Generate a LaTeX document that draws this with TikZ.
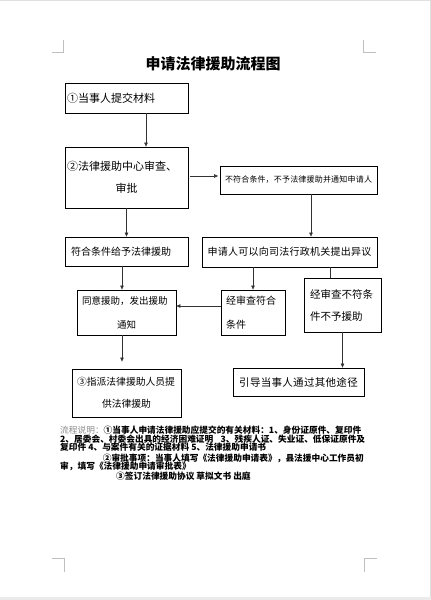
\documentclass[tikz,border=0pt]{standalone}
\usepackage{fontspec}
\setmainfont{Noto Sans CJK SC}
\usetikzlibrary{arrows.meta}
\XeTeXlinebreaklocale "zh"
\XeTeXlinebreakskip=0pt plus 2pt
\tikzset{
  bx/.style={draw=black, line width=0.75pt, inner sep=0pt, anchor=center},
  arr/.style={draw=black!80, line width=0.6pt, -{Triangle[length=4pt,width=3.4pt]}},
  ln/.style={draw=black!80, line width=0.6pt},
  crop/.style={draw=black!25, line width=0.6pt},
  note/.style={inner sep=0pt, font=\fontsize{8.7}{9}\selectfont\bfseries},
}
\newcommand{\midline}[1]{\leavevmode\hfill #1\hfill\null}
\begin{document}
\begin{tikzpicture}[x=1pt,y=-1pt]
\useasboundingbox (0,0) rectangle (431,600);
\fill[white] (0,0) rectangle (431,600);
% page frame
\draw[black!12, line width=1pt] (0,0.5) -- (431,0.5);
\draw[black!12, line width=1pt] (430,0) -- (430,597);
\fill[black!8] (0,596.5) rectangle (431,600);
% crop marks
\draw[crop] (52,52) -- (63.5,52) -- (63.5,40);
\draw[crop] (363.5,40) -- (363.5,52) -- (376,52);
\draw[crop] (52,558) -- (64,558) -- (64,572);
\draw[crop] (364,572) -- (364,558) -- (377,558);
% title
\node[font=\fontsize{15}{18}\selectfont\bfseries] (title) at (213,64) {申请法律援助流程图};
% boxes
\node[bx, minimum width=123pt, minimum height=30pt, text width=119pt, inner xsep=2pt, align=left,
  font=\fontsize{11}{13}\selectfont] (b1) at (126.5,98) {①当事人提交材料};
\node[bx, minimum width=123pt, minimum height=61pt, text width=119pt, inner xsep=2pt, align=left,
  font=\fontsize{11}{22}\selectfont] (b2) at (126.5,177.5) {②法律援助中心审查、\\\midline{审批}};
\node[bx, minimum width=157pt, minimum height=28pt, text width=150pt, inner xsep=3.5pt, align=center,
  font=\fontsize{8}{10}\selectfont] (b3) at (298.5,180) {不符合条件，不予法律援助并通知申请人};
\node[bx, minimum width=123pt, minimum height=29pt, text width=111pt, inner xsep=6pt, align=left,
  font=\fontsize{10}{12}\selectfont] (b4) at (126.5,251.5) {符合条件给予法律援助};
\node[bx, minimum width=175pt, minimum height=30pt, text width=169pt, inner xsep=3pt, align=center,
  font=\fontsize{10}{12}\selectfont] (b5) at (289.5,252) {申请人可以向司法行政机关提出异议};
\node[bx, minimum width=99pt, minimum height=45pt, text width=89pt, inner xsep=5pt, align=left,
  font=\fontsize{9.5}{24}\selectfont] (b6) at (126.5,312.5) {同意援助，发出援助\\\midline{通知}};
\node[bx, minimum width=64pt, minimum height=45pt, text width=54pt, inner xsep=5pt, align=left,
  font=\fontsize{10}{24}\selectfont] (b7) at (253,312.5) {经审查符合\\条件};
\node[bx, minimum width=77pt, minimum height=54pt, text width=65pt, inner xsep=6pt, align=left,
  font=\fontsize{10.5}{22}\selectfont] (b8) at (342.5,305) {经审查不符条\\件不予援助};
\node[bx, minimum width=109pt, minimum height=48pt, text width=99pt, inner xsep=5pt, align=left,
  font=\fontsize{9.8}{22}\selectfont] (b9) at (126.5,393) {③指派法律援助人员提\\\midline{供法律援助}};
\node[bx, minimum width=131pt, minimum height=28pt, text width=125pt, inner xsep=3pt, align=center,
  font=\fontsize{10.5}{12}\selectfont] (b10) at (298.5,382) {引导当事人通过其他途径};
% connectors
\draw[arr] ([xshift=19.5pt]b1.south) -- ([xshift=19.5pt]b2.north);
\coordinate (p1) at ([xshift=2pt,yshift=1.5pt]b2.east);
\draw[arr, shorten >=1.5pt] (p1) -- (p1 -| b3.west);
\coordinate (p2) at ([xshift=12.5pt]b3.south);
\draw[arr] (p2) -- (p2 |- b5.north);
\draw[arr] (b2.south) -- (b4.north);
\coordinate (p3) at ([xshift=-4.5pt]b4.south);
\draw[arr] (p3) -- (p3 |- b6.north);
\draw[arr] (b7.north |- b5.south) -- (b7.north);
\coordinate (p4) at ([xshift=-12.5pt]b8.north);
\draw[ln] (p4 |- b5.south) -- (p4);
\coordinate (p5) at ([yshift=6.5pt]b7.west);
\draw[arr] (p5) -- (p5 -| b6.east);
\coordinate (p6) at ([xshift=-4.5pt]b6.south);
\draw[arr, shorten >=7pt] (p6) -- (p6 |- b9.north);
\draw[arr] (b8.south) -- (b8.south |- b10.north);
% notes
\node[note, anchor=west] (n1) at (60,430) {\makebox[304pt][s]{\textcolor{black!45}{\mdseries 流程说明：}①当事人申请法律援助应提交的有关材料：1、身份证原件、复印件}};
\node[note, anchor=west] (n2) at (60,439) {\makebox[305pt][s]{2、居委会、村委会出具的经济困难证明 3、残疾人证、失业证、低保证原件及}};
\node[note, anchor=west] (n3) at (60,447) {复印件 4、与案件有关的证据材料 5、法律援助申请书};
\node[note, anchor=east] (n4) at (364,458) {②审批事项：当事人填写《法律援助申请表》，县法援中心工作员初};
\node[note, anchor=west] (n5) at (60,466.5) {审，填写《法律援助申请审批表》};
\node[note, anchor=west] (n6) at (116,476) {③签订法律援助协议 草拟文书 出庭};
\end{tikzpicture}
\end{document}
